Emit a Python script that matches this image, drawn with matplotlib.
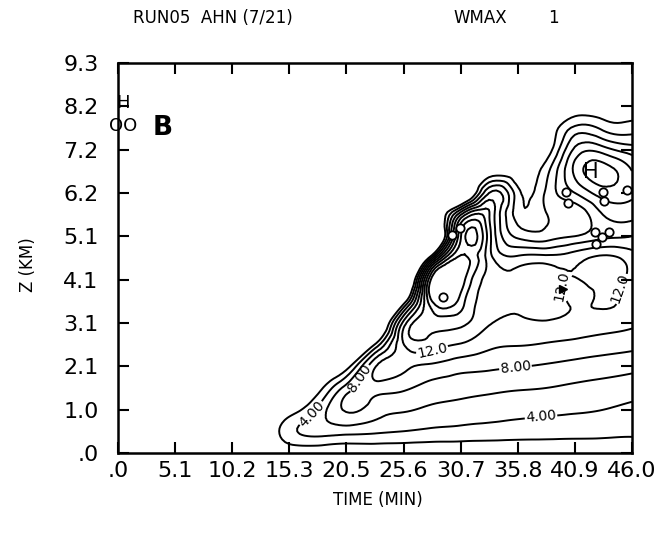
import numpy as np
import matplotlib
matplotlib.use("Agg")
import matplotlib.pyplot as plt
import matplotlib.tri as mtri

# time (min) and height (km) of the grid
time_min = [0.0, 2.56, 5.11, 7.67, 10.2, 12.8, 15.3, 17.9, 20.4, 23.0,
            25.6, 28.1, 30.7, 33.2, 35.8, 38.3, 40.9, 43.4, 46.0]
z_km = [0.0, 0.52, 1.03, 1.55, 2.07, 2.58, 3.10, 3.62, 4.13, 4.65,
        5.17, 5.68, 6.20, 6.72, 7.23, 7.75, 8.27, 8.78, 9.30]

# WMAX (m/s), one row per height, bottom first, columns follow time_min
wmax = [
    [0, 0, 0, 0, 0, 0, 0,    0,    0,    0,    0,     0,     0,     0,    0,    0,    0,    0,    0],
    [0, 0, 0, 0, 0, 0, 3.2,  4.8,  4.8,  4.4,  4.0,   3.6,   3.4,   3.2,  3.0,  2.9,  2.8,  2.7,  2.5],
    [0, 0, 0, 0, 0, 0, 0.8,  4.5,  8.2,  7.0,  6.2,   5.6,   5.2,   4.9,  4.6,  4.4,  4.2,  4.0,  3.6],
    [0, 0, 0, 0, 0, 0, -1.5, 1.0,  6.8,  9.0,  8.3,   7.3,   6.8,   6.5,  6.2,  6.0,  5.6,  5.3,  4.9],
    [0, 0, 0, 0, 0, 0, -1.0, -2.0, 0.6,  9.8,  10.6,  9.6,   8.8,   8.4,  8.1,  7.8,  7.4,  7.0,  6.6],
    [0, 0, 0, 0, 0, 0, 0,    -3.0, -5.0, 2.3,  12.0,  12.8,  11.8,  10.5, 10.1, 9.8,  9.4,  9.0,  8.6],
    [0, 0, 0, 0, 0, 0, 0,    -1.0, -6.0, -6.0, 11.0,  15.0,  14.5,  12.2, 11.6, 11.8, 11.4, 11.0, 10.4],
    [0, 0, 0, 0, 0, 0, 0,    0,    -3.0, -8.0, 0.5,   18.0,  17.0,  13.0, 12.4, 12.8, 11.8, 12.2, 11.0],
    [0, 0, 0, 0, 0, 0, 0,    0,    0,    -5.0, -8.0,  19.0,  19.5,  13.2, 12.6, 12.9, 11.9, 12.8, 11.2],
    [0, 0, 0, 0, 0, 0, 0,    0,    0,    -2.0, -10.0, 5.0,   18.5,  13.0, 10.5, 10.8, 11.2, 12.5, 11.0],
    [0, 0, 0, 0, 0, 0, 0,    0,    0,    0,    -3.0,  -8.0,  16.0,  13.0, 5.5,  5.0,  6.0,  7.5,  8.0],
    [0, 0, 0, 0, 0, 0, 0,    0,    0,    0,    -1.0,  -4.0,  10.1,  12.2, 3.0,  3.9,  4.5,  8.0,  8.5],
    [0, 0, 0, 0, 0, 0, 0,    0,    0,    0,    0,     -2.0,  -6.0,  8.0,  2.7,  4.3,  8.0,  11.0, 10.5],
    [0, 0, 0, 0, 0, 0, 0,    0,    0,    0,    0,     0,     -4.0,  0.0,  0.6,  3.2,  10.5, 13.0, 10.0],
    [0, 0, 0, 0, 0, 0, 0,    0,    0,    0,    0,     0,     -1.0,  -2.0, 0,    0.5,  8.5,  9.0,  7.0],
    [0, 0, 0, 0, 0, 0, 0,    0,    0,    0,    0,     0,     0,     0,    0,    0,    4.5,  3.5,  3.0],
    [0, 0, 0, 0, 0, 0, 0,    0,    0,    0,    0,     0,     0,     0,    0,    0,    0.5,  0.5,  0.5],
    [0] * 19,
    [0] * 19,
]
levels = [2, 4, 6, 8, 10, 12, 14, 16, 18]

# labelled contours and where their labels sit
label_fmt = {4: '4.00', 8: '8.00', 12: '12.0'}
label_pos = {4: [(37.8, 1.0), (17.6, 0.86)],
             8: [(35.6, 1.96), (21.9, 1.74)],
             12: [(28.1, 2.46), (38.7, 4.0), (44.3, 4.0)]}

# little circles left by the plotting program
mark_t = [40.1, 40.3, 43.4, 43.5, 42.7, 43.3, 43.9, 42.8, 45.55, 29.1, 29.9, 30.6]
mark_z = [6.22, 5.96, 6.22, 6.01, 5.27, 5.15, 5.27, 4.98, 6.27, 3.72, 5.20, 5.37]

x_ticks = [0.0, 5.11, 10.22, 15.33, 20.44, 25.56, 30.67, 35.78, 40.89, 46.0]
x_labels = ['.0', '5.1', '10.2', '15.3', '20.5', '25.6', '30.7', '35.8', '40.9', '46.0']
y_ticks = [0.0, 1.033, 2.067, 3.1, 4.133, 5.167, 6.2, 7.233, 8.267, 9.3]
y_labels = ['.0', '1.0', '2.1', '3.1', '4.1', '5.1', '6.2', '7.2', '8.2', '9.3']

fig = plt.figure(figsize=(6.6, 5.39), dpi=100)
ax = fig.add_axes([118 / 660, 1 - 453 / 539, 514 / 660, 390 / 539])

# smooth the coarse grid with matplotlib's own cubic refiner
tt, zz = np.meshgrid(time_min, z_km)
tri = mtri.Triangulation(tt.ravel(), zz.ravel())
refiner = mtri.UniformTriRefiner(tri)
tri_f, w_f = refiner.refine_field(np.array(wmax, dtype=float).ravel(), subdiv=3)

plain = [lv for lv in levels if lv not in label_fmt]
ax.tricontour(tri_f, w_f, levels=plain, colors='black', linewidths=1.4)
for lv, txt in label_fmt.items():
    c = ax.tricontour(tri_f, w_f, levels=[lv], colors='black', linewidths=1.4)
    ax.clabel(c, fmt={lv: txt}, fontsize=10, inline=True, inline_spacing=1,
              manual=label_pos[lv])

ax.plot(mark_t, mark_z, 'o', mfc='white', mec='black', ms=6, mew=1.3)

ax.set_xlim(0, 46)
ax.set_ylim(0, 9.3)
ax.set_xticks(x_ticks)
ax.set_xticklabels(x_labels)
ax.set_yticks(y_ticks)
ax.set_yticklabels(y_labels)
ax.tick_params(direction='in', length=8, width=1.5, top=True, right=True,
               labelsize=16)
ax.tick_params(axis='y', pad=14)
ax.tick_params(axis='x', pad=6)
for s in ax.spines.values():
    s.set_linewidth(1.8)

ax.text(42.3, 6.7, 'H', ha='center', va='center', fontsize=15)
ax.plot([39.8], [3.9], marker='>', color='black', markersize=6)
ax.text(4.0, 7.75, 'B', ha='center', va='center', fontsize=19, fontweight='bold')
ax.text(0.45, 8.35, 'H', ha='center', va='center', fontsize=13, clip_on=False)
ax.text(0.45, 7.8, 'OO', ha='center', va='center', fontsize=13, clip_on=False)

fig.text(133 / 660, 1 - 18 / 539, 'RUN05  AHN (7/21)', ha='left', va='center', fontsize=12)
fig.text(480 / 660, 1 - 18 / 539, 'WMAX', ha='center', va='center', fontsize=12)
fig.text(553 / 660, 1 - 18 / 539, '1', ha='center', va='center', fontsize=12)
fig.text(28 / 660, 1 - 265 / 539, 'Z (KM)', rotation=90, ha='center', va='center', fontsize=12)
fig.text(378 / 660, 1 - 500 / 539, 'TIME (MIN)', ha='center', va='center', fontsize=12)

fig.savefig('out.png', dpi=100)
